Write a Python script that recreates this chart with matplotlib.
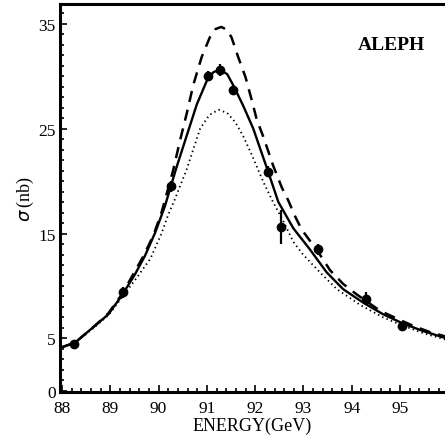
"""ALEPH Z line shape: hadronic cross section vs energy."""
import matplotlib
matplotlib.use("Agg")
import matplotlib.pyplot as plt
from matplotlib.ticker import MultipleLocator, FixedLocator

plt.rcParams['font.family'] = ['Liberation Serif', 'DejaVu Serif']

# measured points
energy = [88.25, 89.26, 90.26, 91.02, 91.27, 91.54, 92.26, 92.53, 93.30, 94.29, 95.04]
sigma = [4.5, 9.4, 19.5, 30.0, 30.6, 28.7, 20.9, 15.6, 13.5, 8.8, 6.2]
sigma_err = [0.3, 0.5, 0.5, 0.5, 0.6, 0.5, 0.5, 1.6, 0.5, 0.6, 0.3]

# fitted curve (solid)
fit_x = [87.96, 88.27, 88.68, 88.96, 89.24, 89.51, 89.72, 89.93, 90.13, 90.37,
         90.58, 90.79, 91.02, 91.14, 91.27, 91.42, 91.55, 91.75, 91.96, 92.26,
         92.48, 92.79, 93.13, 93.48, 93.82, 94.24, 94.65, 95.07, 95.48, 95.93]
fit_y = [4.1, 4.6, 6.2, 7.3, 9.1, 11.1, 12.9, 15.1, 17.6, 21.3,
         24.3, 27.3, 29.8, 30.4, 30.6, 30.2, 29.1, 27.2, 25.0, 21.0,
         18.0, 15.5, 13.5, 11.3, 9.7, 8.4, 7.3, 6.4, 5.7, 5.05]

# dashed curve
dash_x = [87.96, 88.27, 88.68, 88.96, 89.24, 89.51, 89.68, 89.89, 90.06, 90.30,
          90.44, 90.58, 90.72, 90.89, 91.06, 91.18, 91.30, 91.42, 91.51, 91.65,
          91.80, 91.93, 92.03, 92.17, 92.37, 92.55, 92.69, 92.83, 92.96, 93.31,
          93.55, 93.82, 94.10, 94.58, 94.93, 95.27, 95.62, 95.93]
dash_y = [4.1, 4.6, 6.2, 7.4, 9.2, 11.4, 12.8, 14.8, 17.0, 21.0,
          23.8, 26.4, 29.2, 31.8, 33.7, 34.5, 34.7, 34.4, 33.7, 31.8,
          29.9, 27.7, 25.9, 24.2, 21.5, 19.4, 18.1, 16.6, 15.4, 13.2,
          11.5, 10.2, 9.2, 7.65, 6.9, 6.2, 5.6, 5.2]

# dotted curve
dot_x = [87.96, 88.27, 88.68, 88.96, 89.24, 89.55, 89.83, 90.06, 90.20, 90.34,
         90.58, 90.86, 91.05, 91.24, 91.42, 91.59, 91.75, 91.93, 92.17, 92.37,
         92.58, 92.79, 92.99, 93.34, 93.69, 94.17, 94.65, 95.07, 95.48, 95.93]
dot_y = [4.1, 4.6, 6.1, 7.2, 8.9, 10.8, 12.6, 15.0, 16.8, 18.3,
         21.1, 25.0, 26.3, 26.8, 26.5, 25.6, 24.3, 22.5, 19.9, 18.0,
         16.2, 14.2, 13.0, 11.3, 9.7, 8.2, 7.0, 6.2, 5.5, 4.9]

x_ticks = [88, 89, 90, 91, 92, 93, 94, 95]
y_ticks = [0, 5, 15, 25, 35]

fig = plt.figure(figsize=(4.45, 4.39), dpi=100)
ax = fig.add_axes([0.135, 0.105, 0.865, 0.884])

ax.plot(dash_x, dash_y, color='black', lw=1.8, linestyle=(0, (4.5, 3.2)))
ax.plot(dot_x, dot_y, color='black', lw=1.3, linestyle=(0, (0.8, 1.8)))
ax.plot(fit_x, fit_y, color='black', lw=1.7)
ax.errorbar(energy, sigma, yerr=sigma_err, fmt='o', color='black',
            ms=6, elinewidth=1.6, capsize=0)

ax.set_xlim(87.96, 95.93)
ax.set_ylim(-0.1, 36.9)

ax.xaxis.set_major_locator(FixedLocator(x_ticks))
ax.xaxis.set_minor_locator(MultipleLocator(0.2))
ax.yaxis.set_major_locator(FixedLocator(y_ticks))
ax.yaxis.set_minor_locator(MultipleLocator(1))
ax.tick_params(which='both', direction='in', width=1.2, labelsize=12.5)
ax.tick_params(which='major', length=5)
ax.tick_params(which='minor', length=3)
ax.tick_params(axis='x', pad=6)
ax.tick_params(axis='y', pad=3)

for side in ['left', 'bottom', 'top']:
    ax.spines[side].set_linewidth(2.2)
ax.spines['right'].set_visible(False)

ax.set_xlabel('ENERGY(GeV)', fontsize=13, labelpad=0)
ax.set_ylabel(r'$\sigma\,$(nb)', fontsize=13, labelpad=2)
ax.text(0.86, 0.895, 'ALEPH', transform=ax.transAxes, fontsize=14,
        fontweight='bold', ha='center', va='center')

fig.savefig('out.png', dpi=100)
